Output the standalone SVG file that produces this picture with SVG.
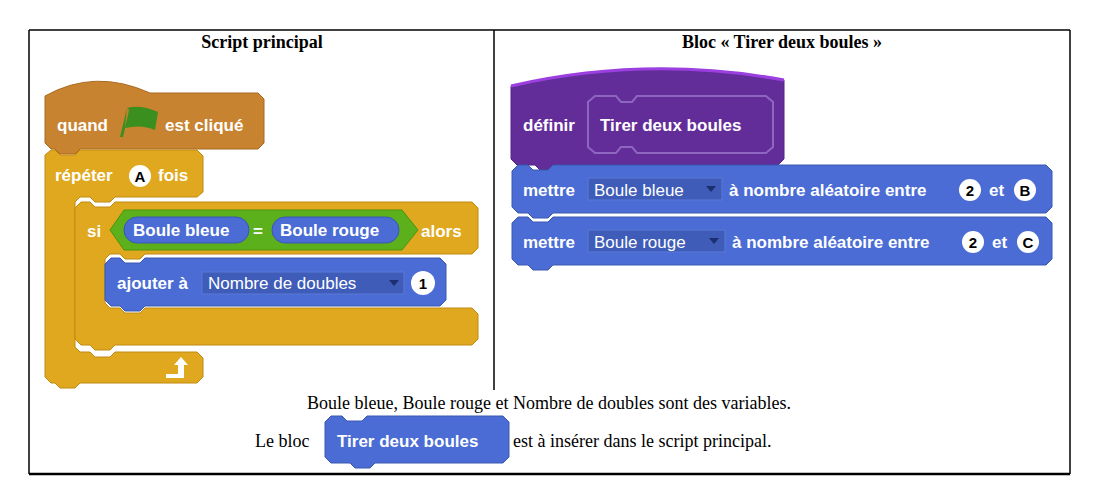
<svg xmlns="http://www.w3.org/2000/svg" width="1098" height="504" viewBox="0 0 1098 504">
<style>
.b{font-family:"Liberation Sans",Arial,sans-serif;font-weight:bold;font-size:17px;fill:#fff}
.n{font-family:"Liberation Sans",Arial,sans-serif;font-size:17px;fill:#fff}
.k{font-family:"Liberation Sans",Arial,sans-serif;font-weight:bold;font-size:15px;fill:#000}
.s{font-family:"Liberation Serif","Times New Roman",serif;font-size:18px;fill:#000}
.h{font-family:"Liberation Serif","Times New Roman",serif;font-size:18px;font-weight:bold;fill:#000}
.or{fill:#c88330;stroke:#a86a20;stroke-width:1}
.go{fill:#e0a81e;stroke:#c08a10;stroke-width:1}
.bl{fill:#4a6cd4;stroke:#3a58b0;stroke-width:1}
.dd{fill:#3e5cb8;stroke:#5a7ad8;stroke-width:1}
.wc{fill:#fff}
</style>
<rect width="1098" height="504" fill="#fff"/>
<g id="frame" stroke="#000" fill="none">
<line x1="29" y1="30" x2="1070" y2="30" stroke-width="1.5"/>
<line x1="29" y1="30" x2="29" y2="474" stroke-width="1.5"/>
<line x1="1070" y1="30" x2="1070" y2="474" stroke-width="1.5"/>
<line x1="29" y1="474" x2="1070" y2="474" stroke-width="2.5"/>
<line x1="494" y1="30" x2="494" y2="390" stroke-width="1.5"/>
</g>
<text class="h" x="262" y="48" text-anchor="middle">Script principal</text>
<text class="h" x="782" y="48" text-anchor="middle">Bloc « Tirer deux boules »</text>

<g id="hat">
<path class="or" d="M45,96 Q95,68 150,93 L258,93 L264,99 L264,143 L258,149 L80,149 L75,154 L60,154 L55,149 L51,149 L45,143 Z"/>
<text class="b" x="57" y="131">quand</text>
<path d="M127,108 Q140,104 158,112 L155,130 Q142,124 125,128 Z M127,108 L120,137 L123,137 L129,110 Z" fill="#3a8f1e"/>
<text class="b" x="165" y="131">est cliqué</text>
</g>

<g id="repeat">
<path class="go" d="M45,155 L51,150 L55,150 L60,155 L75,155 L80,150 L197,150 L203,156 L203,192 L197,197 L115,197 L110,202 L95,202 L90,197 L80,197 L75,202 L75,347 L80,352 L90,352 L95,357 L110,357 L115,352 L197,352 L203,358 L203,377 L197,383 L80,383 L75,388 L60,388 L55,383 L51,383 L45,377 Z"/>
<text class="b" x="55" y="181">répéter</text>
<circle class="wc" cx="140" cy="176" r="11"/>
<text class="k" x="140" y="181.5" text-anchor="middle">A</text>
<text class="b" x="158" y="181">fois</text>
<path d="M166,374 L178,374 L178,365 L174,365 L181,357 L188,365 L184,365 L184,378 L166,378 Z" fill="#fff"/>
</g>

<g id="if">
<path class="go" d="M75,208 L81,202 L90,202 L95,207 L110,207 L115,202 L472,202 L478,208 L478,248 L472,254 L145,254 L140,259 L125,259 L120,254 L110,254 L105,259 L105,303 L110,308 L120,308 L125,313 L140,313 L145,308 L472,308 L478,314 L478,339 L472,345 L115,345 L110,350 L95,350 L90,345 L81,345 L75,339 Z"/>
<text class="b" x="87" y="237">si</text>
<path d="M110,230 L124,210 L402,210 L418,230 L402,250 L124,250 Z" fill="#5cb01c" stroke="#4a9410"/>
<rect class="bl" x="124" y="217" width="125" height="26" rx="13"/>
<text class="b" x="133" y="236">Boule bleue</text>
<text class="b" x="253" y="237">=</text>
<rect class="bl" x="272" y="217" width="127" height="26" rx="13"/>
<text class="b" x="280" y="236">Boule rouge</text>
<text class="b" x="421" y="237">alors</text>
</g>

<g id="ajouter">
<path class="bl" d="M105,264 L111,258 L120,258 L125,263 L140,263 L145,258 L440,258 L446,264 L446,300 L440,306 L145,306 L140,311 L125,311 L120,306 L111,306 L105,300 Z"/>
<text class="b" x="117" y="289">ajouter à</text>
<rect class="dd" x="202" y="272" width="202" height="22"/>
<text class="n" x="208" y="289">Nombre de doubles</text>
<path d="M389,280 L399,280 L394,286 Z" fill="#1c2f70"/>
<circle class="wc" cx="423" cy="283" r="12"/>
<text class="k" x="423" y="288.5" text-anchor="middle">1</text>
</g>

<g id="definir">
<path d="M511,86 Q646,55 784,80 L784,159 L778,165 L560,165 L555,170 L540,170 L535,165 L517,165 L511,159 Z" fill="#632d99" stroke="#54238a"/>
<path d="M511,86 Q646,55 784,80" fill="none" stroke="#9b3fe0" stroke-width="3"/>
<text class="b" x="523" y="131">définir</text>
<path d="M588,102 L595,96 L616,96 L621,102 L632,102 L637,96 L766,96 L773,102 L773,147 L766,153 L637,153 L632,147 L621,147 L616,153 L595,153 L588,147 Z" fill="none" stroke="#8e66c0" stroke-width="2"/>
<text class="b" x="600" y="131">Tirer deux boules</text>
</g>

<g id="mettre1">
<path class="bl" d="M512,171 L518,165 L528,165 L533,170 L548,170 L553,165 L1046,165 L1052,171 L1052,207 L1046,213 L553,213 L548,218 L533,218 L528,213 L518,213 L512,207 Z"/>
<text class="b" x="523" y="196">mettre</text>
<rect class="dd" x="588" y="178" width="134" height="22"/>
<text class="n" x="594" y="196">Boule bleue</text>
<path d="M706,186 L716,186 L711,192 Z" fill="#1c2f70"/>
<text class="b" x="729" y="196">à nombre aléatoire entre</text>
<circle class="wc" cx="970" cy="190" r="11"/>
<text class="k" x="970" y="195.5" text-anchor="middle">2</text>
<text class="b" x="989" y="196">et</text>
<circle class="wc" cx="1025" cy="190" r="11"/>
<text class="k" x="1025" y="195.5" text-anchor="middle">B</text>
</g>

<g id="mettre2">
<path class="bl" d="M512,223 L518,217 L528,217 L533,222 L548,222 L553,217 L1046,217 L1052,223 L1052,259 L1046,265 L553,265 L548,270 L533,270 L528,265 L518,265 L512,259 Z"/>
<text class="b" x="523" y="248">mettre</text>
<rect class="dd" x="588" y="230" width="137" height="22"/>
<text class="n" x="594" y="248">Boule rouge</text>
<path d="M709,238 L719,238 L714,244 Z" fill="#1c2f70"/>
<text class="b" x="732" y="248">à nombre aléatoire entre</text>
<circle class="wc" cx="973" cy="242" r="11"/>
<text class="k" x="973" y="247.5" text-anchor="middle">2</text>
<text class="b" x="992" y="248">et</text>
<circle class="wc" cx="1028" cy="242" r="11"/>
<text class="k" x="1028" y="247.5" text-anchor="middle">C</text>
</g>

<text class="s" x="549" y="409" text-anchor="middle">Boule bleue, Boule rouge et Nombre de doubles sont des variables.</text>
<g id="caption">
<text class="s" x="255" y="447">Le bloc</text>
<path class="bl" d="M325,422 L331,416 L342,416 L347,421 L362,421 L367,416 L503,416 L509,422 L509,457 L503,463 L375,463 L370,468 L355,468 L350,463 L331,463 L325,457 Z"/>
<text class="b" x="337" y="447">Tirer deux boules</text>
<text class="s" x="513" y="447">est à insérer dans le script principal.</text>
</g>
</svg>
